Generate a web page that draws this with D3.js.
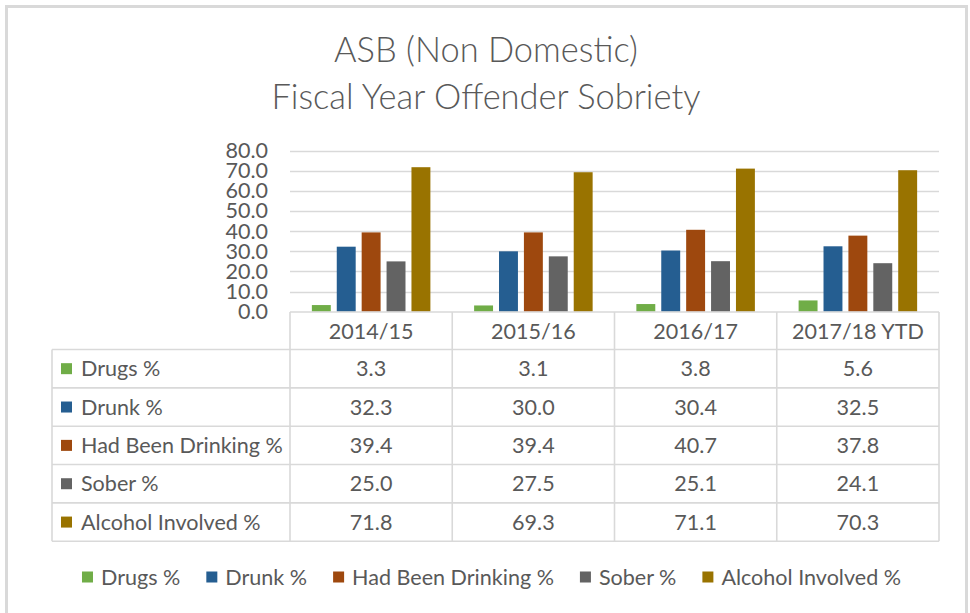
<!DOCTYPE html>
<html><head><meta charset="utf-8">
<script src="https://cdn.jsdelivr.net/npm/d3@7"></script>
<style>body{margin:0;background:#fff}svg{display:block}</style>
</head><body>
<script>
const categories = ["2014/15", "2015/16", "2016/17", "2017/18 YTD"];
const seriesNames = ["Drugs %", "Drunk %", "Had Been Drinking %", "Sober %", "Alcohol Involved %"];
const drugs = [3.3, 3.1, 3.8, 5.6];
const drunk = [32.3, 30.0, 30.4, 32.5];
const hadBeenDrinking = [39.4, 39.4, 40.7, 37.8];
const sober = [25.0, 27.5, 25.1, 24.1];
const alcoholInvolved = [71.8, 69.3, 71.1, 70.3];
const yTicks = [0, 10, 20, 30, 40, 50, 60, 70, 80];
const titleLines = ["ASB (Non Domestic)", "Fiscal Year Offender Sobriety"];
const colors = ["#70ad47", "#255e91", "#9e480e", "#636363", "#997300"];

const seriesValues = [drugs, drunk, hadBeenDrinking, sober, alcoholInvolved];
const series = seriesNames.map((name, i) => ({name, color: colors[i], values: seriesValues[i]}));

const W = 970, H = 613;
const FONT = "Lato, 'Open Sans', sans-serif";
const TXT = "#595959";
const LINE = "#d9d9d9";

const svg = d3.select("body").append("svg").attr("width", W).attr("height", H);

// measure helper to fit text size
function measure(text, size, weight) {
  const t = svg.append("text").attr("font-family", FONT).attr("font-size", size)
    .attr("font-weight", weight || 400).text(text);
  const w = t.node().getComputedTextLength();
  t.remove();
  return w;
}
const bodySize = 100 * 202 / measure("Had Been Drinking %", 100);
const title1Size = 100 * 302 / measure(titleLines[0], 100, 300);
const title2Size = 100 * 432 / measure(titleLines[1], 100, 300);
const titleSize = (title1Size + title2Size) / 2;

// frame
svg.append("rect").attr("x", 6.5).attr("y", 6.5).attr("width", 960).attr("height", 700)
  .attr("fill", "#fff").attr("stroke", LINE).attr("stroke-width", 3);

// title
svg.selectAll("text.title").data(titleLines).join("text").attr("class", "title")
  .attr("x", 486).attr("y", (d, i) => i === 0 ? 50 : 97)
  .attr("dy", "0.35em").attr("text-anchor", "middle")
  .attr("font-family", FONT).attr("font-weight", 300).attr("font-size", titleSize)
  .attr("fill", TXT).text(d => d);

// scales
const x = d3.scaleBand().domain(categories).range([290, 939]).padding(0);
const xs = d3.scaleBand().domain(seriesNames).range([0, x.bandwidth()])
  .paddingInner(0.24).paddingOuter(0.878);
const y = d3.scaleLinear().domain([0, 80]).range([311.7, 150.7]);

// gridlines
svg.append("g").selectAll("line").data(yTicks.filter(t => t > 0)).join("line")
  .attr("x1", 290).attr("x2", 939)
  .attr("y1", d => Math.round(y(d)) + 0.5).attr("y2", d => Math.round(y(d)) + 0.5)
  .attr("stroke", LINE).attr("stroke-width", 1.3);

// y axis
const yAxis = d3.axisLeft(y).tickValues(yTicks).tickFormat(d3.format(".1f")).tickSize(0).tickPadding(0);
const yg = svg.append("g").attr("transform", "translate(268,0)").call(yAxis);
yg.select(".domain").remove();
yg.selectAll("text").attr("font-family", FONT).attr("font-size", bodySize).attr("fill", TXT);

// bars
const groups = svg.append("g").selectAll("g").data(series).join("g").attr("fill", d => d.color);
groups.selectAll("rect").data(s => s.values.map((v, i) => ({v, cat: categories[i], s: s.name})))
  .join("rect")
  .attr("x", d => x(d.cat) + xs(d.s))
  .attr("width", xs.bandwidth())
  .attr("y", d => y(d.v))
  .attr("height", d => y(0) - y(d.v));

// data table
const tableLeft = 52, tableTop = 312, headerH = 37.5, rowH = 38.35;
const rowsBottom = tableTop + headerH + rowH * series.length;
const tg = svg.append("g").attr("stroke", LINE).attr("stroke-width", 1.6);
// header top line (axis line)
tg.append("line").attr("x1", 290).attr("x2", 939).attr("y1", tableTop).attr("y2", tableTop);
// row horizontal lines
d3.range(series.length + 1).forEach(i => {
  const yy = tableTop + headerH + rowH * i;
  tg.append("line").attr("x1", tableLeft).attr("x2", 939).attr("y1", yy).attr("y2", yy);
});
// vertical lines
const colEdges = categories.map(c => x(c)).concat([x.range()[1]]);
colEdges.forEach(cx => tg.append("line").attr("x1", cx).attr("x2", cx).attr("y1", tableTop).attr("y2", rowsBottom));
tg.append("line").attr("x1", tableLeft).attr("x2", tableLeft).attr("y1", tableTop + headerH).attr("y2", rowsBottom);

// header labels
svg.append("g").selectAll("text").data(categories).join("text")
  .attr("x", d => x(d) + x.bandwidth() / 2).attr("y", tableTop + headerH / 2 + 1)
  .attr("dy", "0.35em").attr("text-anchor", "middle")
  .attr("font-family", FONT).attr("font-size", bodySize).attr("fill", TXT).text(d => d);

// rows
const rows = svg.append("g").selectAll("g").data(series).join("g")
  .attr("transform", (d, i) => `translate(0,${tableTop + headerH + rowH * i + rowH / 2})`);
rows.append("rect").attr("x", 61).attr("y", -5.5).attr("width", 11).attr("height", 11).attr("fill", d => d.color);
rows.append("text").attr("x", 81).attr("dy", "0.35em")
  .attr("font-family", FONT).attr("font-size", bodySize).attr("fill", TXT).text(d => d.name);
rows.selectAll("text.v").data(d => d.values.map((v, i) => ({v, cat: categories[i]}))).join("text")
  .attr("class", "v").attr("x", d => x(d.cat) + x.bandwidth() / 2).attr("dy", "0.35em")
  .attr("text-anchor", "middle").attr("font-family", FONT).attr("font-size", bodySize)
  .attr("fill", TXT).text(d => d3.format(".1f")(d.v));

// legend
const sq = 11, sqGap = 8, itemGap = 26;
const widths = series.map(s => measure(s.name, bodySize));
const total = d3.sum(widths) + series.length * (sq + sqGap) + itemGap * (series.length - 1);
let lx = 491.5 - total / 2;
const legendY = 577;
const lg = svg.append("g");
series.forEach((s, i) => {
  lg.append("rect").attr("x", lx).attr("y", legendY - sq / 2).attr("width", sq).attr("height", sq).attr("fill", s.color);
  lg.append("text").attr("x", lx + sq + sqGap).attr("y", legendY).attr("dy", "0.35em")
    .attr("font-family", FONT).attr("font-size", bodySize).attr("fill", TXT).text(s.name);
  lx += sq + sqGap + widths[i] + itemGap;
});
</script>
</body></html>
